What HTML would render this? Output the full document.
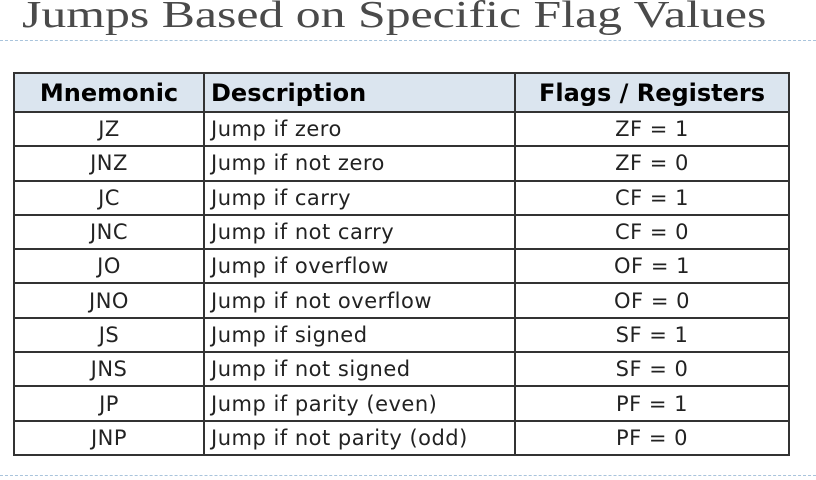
<!DOCTYPE html>
<html><head><style>
body{margin:0;width:816px;height:480px;background:#fff;position:relative;overflow:hidden}
.t{position:absolute;left:22px;top:-7px;font:38px "Liberation Serif",serif;color:#4a4a4a;transform:scaleX(1.31);transform-origin:0 0;white-space:nowrap}
.d{position:absolute;left:0;width:816px;border-top:1.5px dashed #a9c4dc}
table{position:absolute;left:13px;top:72px;border-collapse:collapse;font-family:"DejaVu Sans","Liberation Sans",sans-serif;color:#222}
td,th{border:2px solid #333;padding:0;height:32.3px;font-size:21px;font-weight:normal;letter-spacing:0.5px}
th{background:#dbe5ef;height:37px;font-size:24px;font-weight:bold;color:#000;letter-spacing:0}
.c{text-align:center}.l{text-align:left;padding-left:6px}
</style></head><body>
<div class="t">Jumps Based on Specific Flag Values</div>
<div class="d" style="top:40px"></div>
<div class="d" style="top:475px"></div>
<table>
<tr><th class="c" style="width:188px">Mnemonic</th><th class="l" style="width:303px">Description</th><th class="c" style="width:272px">Flags / Registers</th></tr>
<tr><td class="c">JZ</td><td class="l">Jump if zero</td><td class="c">ZF = 1</td></tr>
<tr><td class="c">JNZ</td><td class="l">Jump if not zero</td><td class="c">ZF = 0</td></tr>
<tr><td class="c">JC</td><td class="l">Jump if carry</td><td class="c">CF = 1</td></tr>
<tr><td class="c">JNC</td><td class="l">Jump if not carry</td><td class="c">CF = 0</td></tr>
<tr><td class="c">JO</td><td class="l">Jump if overflow</td><td class="c">OF = 1</td></tr>
<tr><td class="c">JNO</td><td class="l">Jump if not overflow</td><td class="c">OF = 0</td></tr>
<tr><td class="c">JS</td><td class="l">Jump if signed</td><td class="c">SF = 1</td></tr>
<tr><td class="c">JNS</td><td class="l">Jump if not signed</td><td class="c">SF = 0</td></tr>
<tr><td class="c">JP</td><td class="l">Jump if parity (even)</td><td class="c">PF = 1</td></tr>
<tr><td class="c">JNP</td><td class="l">Jump if not parity (odd)</td><td class="c">PF = 0</td></tr>
</table>
</body></html>
